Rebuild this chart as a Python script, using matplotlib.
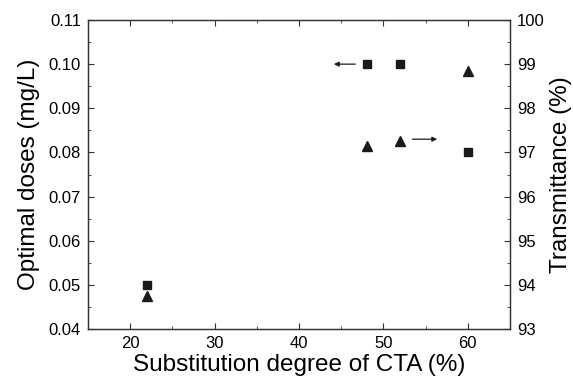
import matplotlib
matplotlib.use('Agg')
import matplotlib.pyplot as plt
from matplotlib.ticker import MultipleLocator, FormatStrFormatter

plt.rcParams['font.family'] = ['Liberation Sans', 'DejaVu Sans']

# Data
substitution = [22, 48, 52, 60]
optimal_doses = [0.05, 0.10, 0.10, 0.08]
transmittance = [93.75, 97.15, 97.25, 98.85]

fig = plt.figure(figsize=(5.73, 3.84), dpi=100)
ax = fig.add_axes([88 / 573, 1 - 329 / 384, (510 - 88) / 573, (329 - 20) / 384])
ax2 = ax.twinx()

ax.plot(substitution, optimal_doses, 's', color='#1a1a1a', markersize=6, linestyle='none')
ax2.plot(substitution, transmittance, '^', color='#1a1a1a', markersize=7, linestyle='none')

ax.set_xlim(15, 65)
ax.set_ylim(0.04, 0.11)
ax2.set_ylim(93, 100)

ax.xaxis.set_major_locator(MultipleLocator(10))
ax.xaxis.set_minor_locator(MultipleLocator(5))
ax.yaxis.set_major_locator(MultipleLocator(0.01))
ax.yaxis.set_minor_locator(MultipleLocator(0.005))
ax2.yaxis.set_major_locator(MultipleLocator(1))
ax2.yaxis.set_minor_locator(MultipleLocator(0.5))
ax.yaxis.set_major_formatter(FormatStrFormatter('%.2f'))

for a in (ax, ax2):
    for s in a.spines.values():
        s.set_color('#333333')
        s.set_linewidth(0.9)

ax.tick_params(axis='both', which='both', direction='in', top=True,
               labelsize=12, color='#333333', pad=5)
ax.tick_params(which='major', length=4)
ax.tick_params(which='minor', length=2.5)
ax2.tick_params(axis='y', which='both', direction='in', labelsize=12,
                color='#333333', pad=5)
ax2.tick_params(which='major', length=4)
ax2.tick_params(which='minor', length=2.5)

ax.set_xlabel('Substitution degree of CTA (%)', fontsize=17.5, labelpad=2)
ax.set_ylabel('Optimal doses (mg/L)', fontsize=17.5, labelpad=6)
ax2.set_ylabel('Transmittance (%)', fontsize=17.5, labelpad=4)

# arrows pointing to the respective axes
ax.annotate('', xy=(43.8, 0.10), xytext=(47.0, 0.10),
            arrowprops=dict(arrowstyle='-|>', lw=0.9, color='#1a1a1a', mutation_scale=7))
ax2.annotate('', xy=(56.7, 97.3), xytext=(53.1, 97.3),
             arrowprops=dict(arrowstyle='-|>', lw=0.9, color='#1a1a1a', mutation_scale=7))

fig.savefig('out.png', dpi=100)
